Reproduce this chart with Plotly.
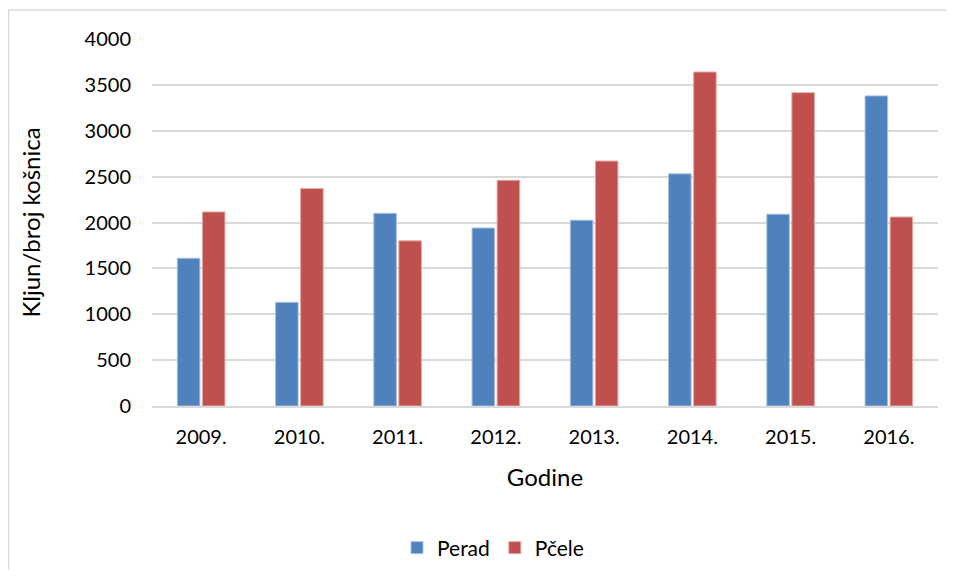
import plotly.graph_objects as go

years = ["2009.", "2010.", "2011.", "2012.", "2013.", "2014.", "2015.", "2016."]
perad = [1610, 1130, 2100, 1940, 2025, 2530, 2090, 3380]
pcele = [2115, 2370, 1800, 2460, 2670, 3640, 3415, 2060]

font_family = "Lato, 'Open Sans', sans-serif"

fig = go.Figure()
fig.add_trace(go.Bar(x=years, y=perad, name="Perad",
                     marker=dict(color="#4F81BD", line=dict(color="#A7C0DE", width=1))))
fig.add_trace(go.Bar(x=years, y=pcele, name="Pčele",
                     marker=dict(color="#C0504D", line=dict(color="#E0A8A6", width=1))))

# page body has an 8px margin; figure coordinates = screen - 8
W, H = 938, 562
L, R, T, B = 144, 8, 31, 164
pw, ph = W - L - R, H - T - B

def px_to_paper_x(px):
    return (px - L) / pw

def px_to_paper_y(py):
    return (H - B - py) / ph

fig.update_layout(
    width=W, height=H,
    margin=dict(l=L, r=R, t=T, b=B, autoexpand=False),
    paper_bgcolor="white", plot_bgcolor="white",
    barmode="group", bargap=0.49, bargroupgap=0.1,
    font=dict(family=font_family, size=20, color="#000000"),
    xaxis=dict(
        title=dict(text="Godine", font=dict(size=24), standoff=22),
        showline=True, linecolor="#D9D9D9", linewidth=1.5,
        ticks="", tickfont=dict(size=20), showgrid=False,
        ticklabelstandoff=12, automargin=False,
    ),
    yaxis=dict(
        title=dict(text="Kljun/broj košnica", font=dict(size=24), standoff=37),
        range=[0, 4000], dtick=500, tickmode="linear",
        showgrid=True, gridcolor="#D9D9D9", gridwidth=1.5,
        zeroline=False, showline=False, ticks="",
        ticklabelstandoff=20, tickfont=dict(size=20), automargin=False,
    ),
    legend=dict(orientation="h", x=0.5 - 52 / pw, xanchor="center",
                y=px_to_paper_y(540), yanchor="middle",
                font=dict(size=21), itemwidth=30, traceorder="normal"),
    shapes=[dict(type="rect", xref="paper", yref="paper",
                 x0=px_to_paper_x(0.5), x1=px_to_paper_x(1000),
                 y0=px_to_paper_y(700), y1=px_to_paper_y(2),
                 line=dict(color="#D9D9D9", width=1.5), fillcolor="rgba(0,0,0,0)",
                 layer="below")],
)

fig.write_html("out.html")
